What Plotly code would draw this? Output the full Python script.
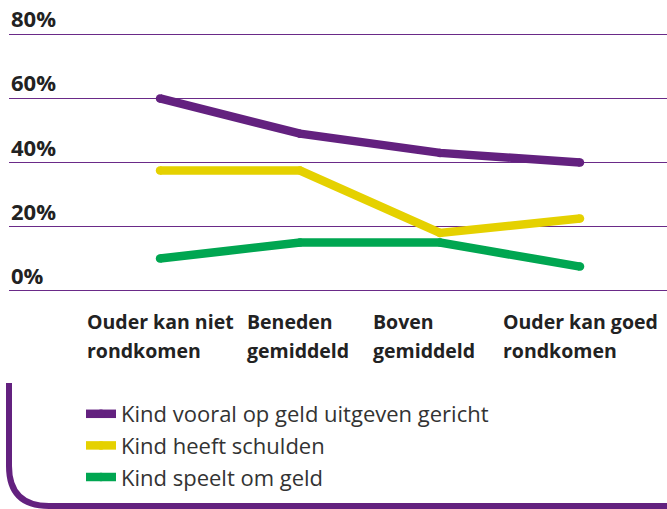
import plotly.graph_objects as go

categories = ["Ouder kan niet\nrondkomen", "Beneden\ngemiddeld", "Boven\ngemiddeld", "Ouder kan goed\nrondkomen"]
series_names = ["Kind vooral op geld uitgeven gericht", "Kind heeft schulden", "Kind speelt om geld"]
purple_vals = [60, 49, 43, 40]
yellow_vals = [37.5, 37.5, 18, 22.5]
green_vals = [10, 15, 15, 7.5]
tick_vals = [0, 20, 40, 60, 80]
tick_labels = ["0%", "20%", "40%", "60%", "80%"]

PURPLE = "#63217f"
YELLOW = "#e5d100"
GREEN = "#00a651"
colors = [PURPLE, YELLOW, GREEN]
series = [purple_vals, yellow_vals, green_vals]

OFF = 0  # page body margin removed via post_script
W, H = 667, 509
ML, MR, MT, MB = 9, 0, 28, 212
PW = W - ML - MR
PH = H - MT - MB


def px(sx):
    return (sx - OFF - ML) / PW


def py(sy):
    return (MT + PH - (sy - OFF)) / PH


fig = go.Figure()
xcats = [c.replace("\n", " ") for c in categories]
for i, (name, vals, col) in enumerate(zip(series_names, series, colors)):
    fig.add_trace(go.Scatter(
        x=xcats, y=vals, name=name, mode="lines+markers",
        line=dict(color=col, width=8.5),
        marker=dict(color=col, size=8.5, line=dict(width=0)),
        legendgroup=f"g{i}",
        hoverinfo="skip",
    ))

annotations = []
for v, lab in zip(tick_vals, tick_labels):
    annotations.append(dict(
        x=px(9), xref="paper", y=v, yref="y", text=f"<b>{lab}</b>",
        showarrow=False, xanchor="left", yanchor="bottom", yshift=-1,
        font=dict(family="Open Sans", size=22, color="#222222"),
    ))

label_left_px = [87, 247, 373, 503]
for lx, cat in zip(label_left_px, categories):
    lines = cat.split("\n")
    for j, ln in enumerate(lines):
        annotations.append(dict(
            x=px(lx - 2), xref="paper", y=py(321 + 29 * j), yref="paper",
            text=f"<b>{ln}</b>", showarrow=False, xanchor="left", yanchor="middle",
            font=dict(family="Open Sans", size=19.5, color="#222222"),
        ))

shapes = [dict(
    type="path", xref="paper", yref="paper",
    path=(f"M {px(9)},{py(383)} L {px(9)},{py(466)} "
          f"Q {px(9)},{py(506)} {px(49)},{py(506)} L {px(700)},{py(506)}"),
    line=dict(color=PURPLE, width=6),
)]

fig.update_layout(
    width=W, height=H, autosize=False,
    margin=dict(l=ML, r=MR, t=MT, b=MB),
    paper_bgcolor="white", plot_bgcolor="white",
    showlegend=True,
    legend=dict(
        x=px(81), y=py(393), xanchor="left", yanchor="top",
        xref="paper", yref="paper",
        font=dict(family="Open Sans", size=22, color="#333333"),
        traceorder="grouped", tracegroupgap=0,
        bgcolor="rgba(0,0,0,0)",
    ),
    xaxis=dict(type="category", range=[-1.0787, 3.6213], showticklabels=False,
               showgrid=False, zeroline=False, showline=False, fixedrange=True),
    yaxis=dict(range=[-2, 82], tickvals=tick_vals, showticklabels=False,
               showgrid=True, gridcolor="#6a2a88", gridwidth=1.5,
               zeroline=False, showline=False, fixedrange=True),
    annotations=annotations,
    shapes=shapes,
)

fig.write_html("out.html",
               config={"displayModeBar": False, "staticPlot": True},
               post_script="document.body.style.margin='0';document.body.style.overflow='hidden';")
